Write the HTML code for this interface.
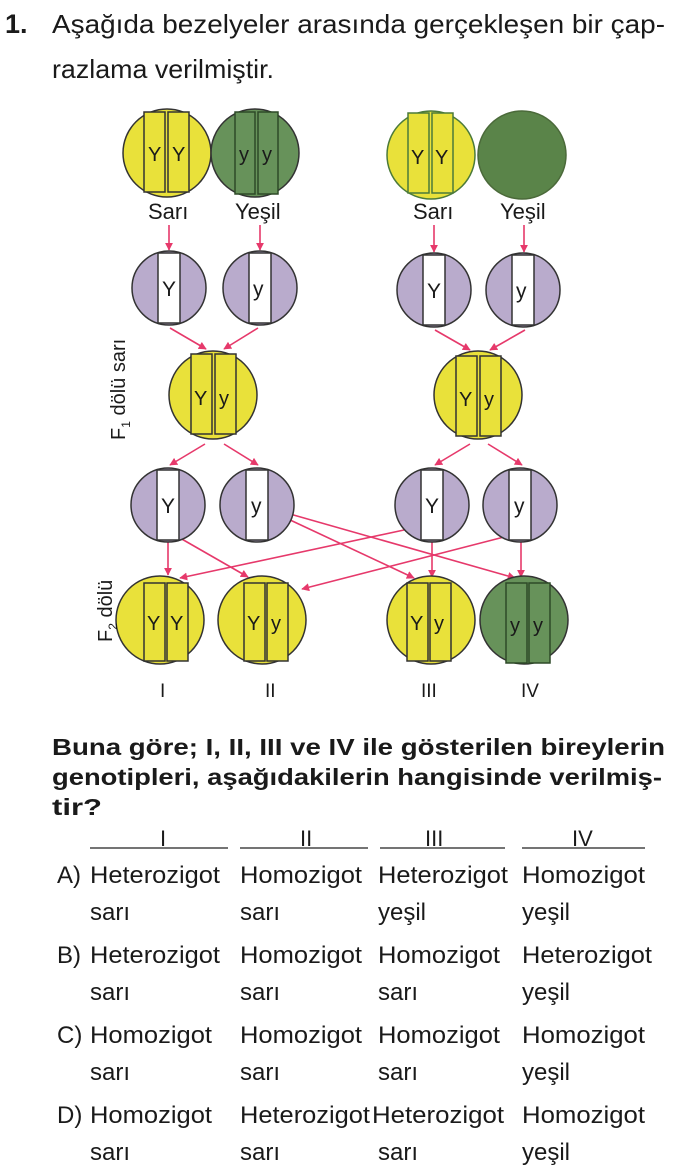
<!DOCTYPE html>
<html><head><meta charset="utf-8"><style>
html,body{margin:0;padding:0;background:#fff;}
svg{display:block;}
text{font-family:"Liberation Sans",sans-serif;fill:#1a1a1a;}
.b{font-weight:bold;}
</style></head><body>
<svg width="681" height="1175" viewBox="0 0 681 1175" xmlns="http://www.w3.org/2000/svg">
<defs>
<marker id="ah" viewBox="0 0 10 10" refX="9" refY="5" markerWidth="5" markerHeight="5" orient="auto"><path d="M0,0 L10,5 L0,10 z" fill="#e6396b"/></marker>
</defs>
<text x="5" y="33" font-size="27" class="b">1.</text>
<text x="52" y="33" font-size="26" textLength="613" lengthAdjust="spacingAndGlyphs">Aşağıda bezelyeler arasında gerçekleşen bir çap-</text>
<text x="52" y="78" font-size="26" textLength="222" lengthAdjust="spacingAndGlyphs">razlama verilmiştir.</text>

<g stroke="#333" stroke-width="1.5">
<circle cx="167" cy="153" r="44" fill="#e9e13a"/>
<rect x="144" y="112" width="21" height="80" fill="#e9e13a"/>
<rect x="168" y="112" width="21" height="80" fill="#e9e13a"/>
<circle cx="255" cy="153" r="44" fill="#67925a"/>
<rect x="235" y="112" width="20" height="82" fill="#67925a" stroke="#2e4a28"/>
<rect x="258" y="112" width="20" height="82" fill="#67925a" stroke="#2e4a28"/>
<circle cx="431" cy="155" r="44" fill="#e9e13a" stroke="#4b7a3a"/>
<rect x="408" y="113" width="21" height="80" fill="#e9e13a" stroke="#4b7a3a"/>
<rect x="432" y="113" width="21" height="80" fill="#e9e13a" stroke="#4b7a3a"/>
<circle cx="522" cy="155" r="44" fill="#5a8449" stroke="#4b6a3a"/>
</g>
<g font-size="20" fill="#333">
<text x="148" y="161">Y</text><text x="172" y="161">Y</text>
<text x="239" y="161" fill="#2e4a28">y</text><text x="262" y="161" fill="#2e4a28">y</text>
<text x="411" y="164" fill="#3a5a2a">Y</text><text x="435" y="164" fill="#3a5a2a">Y</text>
</g>
<g font-size="22">
<text x="148" y="219">Sarı</text><text x="235" y="219">Yeşil</text>
<text x="413" y="219">Sarı</text><text x="500" y="219">Yeşil</text>
</g>
<g stroke="#e6396b" stroke-width="1.6" fill="none" marker-end="url(#ah)">
<line x1="169" y1="225" x2="169" y2="250"/>
<line x1="260" y1="225" x2="260" y2="250"/>
<line x1="434" y1="225" x2="434" y2="252"/>
<line x1="524" y1="225" x2="524" y2="252"/>
<line x1="170" y1="328" x2="206" y2="349"/>
<line x1="258" y1="328" x2="224" y2="349"/>
<line x1="435" y1="330" x2="470" y2="350"/>
<line x1="525" y1="330" x2="490" y2="350"/>
<line x1="205" y1="444" x2="170" y2="465"/>
<line x1="224" y1="444" x2="258" y2="465"/>
<line x1="470" y1="444" x2="435" y2="465"/>
<line x1="488" y1="444" x2="522" y2="465"/>
<line x1="168" y1="542" x2="168" y2="575"/>
<line x1="180" y1="538" x2="248" y2="577"/>
<line x1="288" y1="519" x2="414" y2="578"/>
<line x1="290" y1="514" x2="515" y2="578"/>
<line x1="404" y1="530" x2="180" y2="578"/>
<line x1="504" y1="537" x2="302" y2="589"/>
<line x1="432" y1="542" x2="432" y2="577"/>
<line x1="521" y1="542" x2="521" y2="577"/>
</g>

<g stroke="#333" stroke-width="1.5">
<circle cx="169" cy="288" r="37" fill="#b9abcc"/><rect x="158" y="253" width="22" height="70" fill="#fff"/>
<circle cx="260" cy="288" r="37" fill="#b9abcc"/><rect x="249" y="253" width="22" height="70" fill="#fff"/>
<circle cx="434" cy="290" r="37" fill="#b9abcc"/><rect x="423" y="255" width="22" height="70" fill="#fff"/>
<circle cx="523" cy="290" r="37" fill="#b9abcc"/><rect x="512" y="255" width="22" height="70" fill="#fff"/>
<circle cx="168" cy="505" r="37" fill="#b9abcc"/><rect x="157" y="470" width="22" height="70" fill="#fff"/>
<circle cx="257" cy="505" r="37" fill="#b9abcc"/><rect x="246" y="470" width="22" height="70" fill="#fff"/>
<circle cx="432" cy="505" r="37" fill="#b9abcc"/><rect x="421" y="470" width="22" height="70" fill="#fff"/>
<circle cx="520" cy="505" r="37" fill="#b9abcc"/><rect x="509" y="470" width="22" height="70" fill="#fff"/>
</g>
<g font-size="21">
<text x="162" y="296">Y</text><text x="253" y="296">y</text>
<text x="427" y="298">Y</text><text x="516" y="298">y</text>
<text x="161" y="513">Y</text><text x="251" y="513">y</text>
<text x="425" y="513">Y</text><text x="514" y="513">y</text>
</g>

<g stroke="#333" stroke-width="1.5">
<circle cx="213" cy="395" r="44" fill="#e9e13a"/>
<rect x="191" y="354" width="21" height="80" fill="#e9e13a"/><rect x="215" y="354" width="21" height="80" fill="#e9e13a"/>
<circle cx="478" cy="395" r="44" fill="#e9e13a"/>
<rect x="456" y="356" width="21" height="80" fill="#e9e13a"/><rect x="480" y="356" width="21" height="80" fill="#e9e13a"/>
</g>
<g font-size="20">
<text x="194" y="405">Y</text><text x="219" y="405">y</text>
<text x="459" y="406">Y</text><text x="484" y="406">y</text>
</g>
<text transform="translate(125,440) rotate(-90)" font-size="20">F<tspan font-size="12" dy="5">1</tspan><tspan dy="-5"> dölü sarı</tspan></text>

<g stroke="#333" stroke-width="1.5">
<circle cx="160" cy="620" r="44" fill="#e9e13a"/>
<rect x="144" y="583" width="21" height="78" fill="#e9e13a"/><rect x="167" y="583" width="21" height="78" fill="#e9e13a"/>
<circle cx="262" cy="620" r="44" fill="#e9e13a"/>
<rect x="244" y="583" width="21" height="78" fill="#e9e13a"/><rect x="267" y="583" width="21" height="78" fill="#e9e13a"/>
<circle cx="431" cy="620" r="44" fill="#e9e13a"/>
<rect x="407" y="583" width="21" height="78" fill="#e9e13a"/><rect x="430" y="583" width="21" height="78" fill="#e9e13a"/>
<circle cx="524" cy="620" r="44" fill="#67925a"/>
<rect x="506" y="583" width="21" height="80" fill="#67925a" stroke="#2e4a28"/><rect x="529" y="583" width="21" height="80" fill="#67925a" stroke="#2e4a28"/>
</g>
<g font-size="20">
<text x="147" y="630">Y</text><text x="170" y="630">Y</text>
<text x="247" y="630">Y</text><text x="271" y="630">y</text>
<text x="410" y="630">Y</text><text x="434" y="630">y</text>
<text x="510" y="632" fill="#2e4a28">y</text><text x="533" y="632" fill="#2e4a28">y</text>
</g>
<text transform="translate(112,642) rotate(-90)" font-size="20">F<tspan font-size="12" dy="5">2</tspan><tspan dy="-5"> dölü</tspan></text>
<g font-size="19">
<text x="160" y="697">I</text><text x="265" y="697">II</text>
<text x="421" y="697">III</text><text x="521" y="697">IV</text>
</g>

<g class="b" font-size="23">
<text x="52" y="755" textLength="613" lengthAdjust="spacingAndGlyphs">Buna göre; I, II, III ve IV ile gösterilen bireylerin</text>
<text x="52" y="785" textLength="610" lengthAdjust="spacingAndGlyphs">genotipleri, aşağıdakilerin hangisinde verilmiş-</text>
<text x="52" y="815" textLength="50" lengthAdjust="spacingAndGlyphs">tir?</text>
</g>
<g stroke="#222" stroke-width="1.3">
<line x1="90" y1="848" x2="228" y2="848"/>
<line x1="240" y1="848" x2="368" y2="848"/>
<line x1="380" y1="848" x2="505" y2="848"/>
<line x1="522" y1="848" x2="645" y2="848"/>
</g>
<g font-size="22">
<text x="160" y="846">I</text><text x="300" y="846">II</text><text x="425" y="846">III</text><text x="572" y="846">IV</text>
</g>
<g font-size="24">
<text x="57" y="883">A)</text>
<text x="90" y="883" textLength="130" lengthAdjust="spacingAndGlyphs">Heterozigot</text>
<text x="240" y="883" textLength="122" lengthAdjust="spacingAndGlyphs">Homozigot</text>
<text x="378" y="883" textLength="130" lengthAdjust="spacingAndGlyphs">Heterozigot</text>
<text x="522" y="883" textLength="123" lengthAdjust="spacingAndGlyphs">Homozigot</text>
<text x="90" y="920">sarı</text><text x="240" y="920">sarı</text><text x="378" y="920">yeşil</text><text x="522" y="920">yeşil</text>

<text x="57" y="963">B)</text>
<text x="90" y="963" textLength="130" lengthAdjust="spacingAndGlyphs">Heterozigot</text>
<text x="240" y="963" textLength="122" lengthAdjust="spacingAndGlyphs">Homozigot</text>
<text x="378" y="963" textLength="122" lengthAdjust="spacingAndGlyphs">Homozigot</text>
<text x="522" y="963" textLength="130" lengthAdjust="spacingAndGlyphs">Heterozigot</text>
<text x="90" y="1000">sarı</text><text x="240" y="1000">sarı</text><text x="378" y="1000">sarı</text><text x="522" y="1000">yeşil</text>

<text x="57" y="1043">C)</text>
<text x="90" y="1043" textLength="122" lengthAdjust="spacingAndGlyphs">Homozigot</text>
<text x="240" y="1043" textLength="122" lengthAdjust="spacingAndGlyphs">Homozigot</text>
<text x="378" y="1043" textLength="122" lengthAdjust="spacingAndGlyphs">Homozigot</text>
<text x="522" y="1043" textLength="123" lengthAdjust="spacingAndGlyphs">Homozigot</text>
<text x="90" y="1080">sarı</text><text x="240" y="1080">sarı</text><text x="378" y="1080">sarı</text><text x="522" y="1080">yeşil</text>

<text x="57" y="1123">D)</text>
<text x="90" y="1123" textLength="122" lengthAdjust="spacingAndGlyphs">Homozigot</text>
<text x="240" y="1123" textLength="130" lengthAdjust="spacingAndGlyphs">Heterozigot</text>
<text x="372" y="1123" textLength="132" lengthAdjust="spacingAndGlyphs">Heterozigot</text>
<text x="522" y="1123" textLength="123" lengthAdjust="spacingAndGlyphs">Homozigot</text>
<text x="90" y="1160">sarı</text><text x="240" y="1160">sarı</text><text x="378" y="1160">sarı</text><text x="522" y="1160">yeşil</text>
</g>
</svg>
</body></html>
